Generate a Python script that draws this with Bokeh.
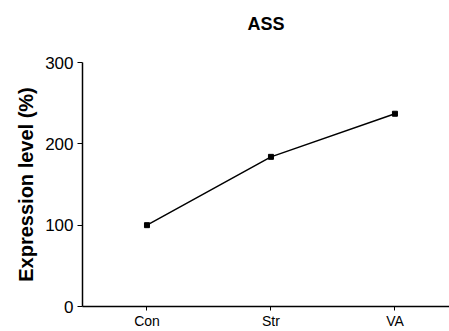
from bokeh.plotting import figure
from bokeh.models import FixedTicker, Range1d, Title
from bokeh.embed import file_html
from bokeh.resources import INLINE

categories = ["Con", "Str", "VA"]
positions = [1, 2, 3]
expression = [100, 184, 237]
y_ticks = [0, 100, 200, 300]

FONT = "Liberation Sans"

p = figure(width=449, height=331, output_backend="svg", toolbar_location=None,
           x_range=Range1d(0.48, 3.44), y_range=Range1d(0, 300),
           min_border_left=82, min_border_right=0,
           min_border_top=0, min_border_bottom=0)
p.outline_line_color = None
p.xgrid.visible = False
p.ygrid.visible = False
p.background_fill_color = "white"
p.border_fill_color = "white"

spacer = Title(text=" ", text_font=FONT, text_font_size="12px", standoff=2)
p.add_layout(spacer, "above")
main_title = Title(text="ASS", text_font=FONT, text_font_size="18px",
                   text_font_style="bold", align="center", text_color="black",
                   standoff=22)
p.add_layout(main_title, "above")

p.line(positions, expression, line_color="black", line_width=1.5)
p.scatter(positions, expression, marker="square", size=5, color="black")

xa = p.xaxis[0]
xa.ticker = FixedTicker(ticks=positions)
xa.major_label_overrides = {pos: c for pos, c in zip(positions, categories)}
xa.minor_tick_line_color = None
xa.major_tick_in = 0
xa.major_tick_out = 4
xa.major_label_standoff = 2
xa.major_label_text_font = FONT
xa.major_label_text_font_size = "14px"
xa.major_label_text_color = "black"
xa.axis_line_width = 1.5
xa.axis_line_color = "black"

ya = p.yaxis[0]
ya.ticker = FixedTicker(ticks=y_ticks)
ya.minor_tick_line_color = None
ya.major_tick_in = 0
ya.major_tick_out = 5
ya.major_label_standoff = 4
ya.major_label_text_font = FONT
ya.major_label_text_font_size = "17px"
ya.major_label_text_color = "black"
ya.axis_label = "Expression level (%)"
ya.axis_label_text_font = FONT
ya.axis_label_text_font_size = "20px"
ya.axis_label_text_font_style = "bold"
ya.axis_label_text_color = "black"
ya.axis_label_standoff = 5
ya.axis_line_width = 1.5
ya.axis_line_color = "black"

open("out.html", "w").write(file_html(p, INLINE))
